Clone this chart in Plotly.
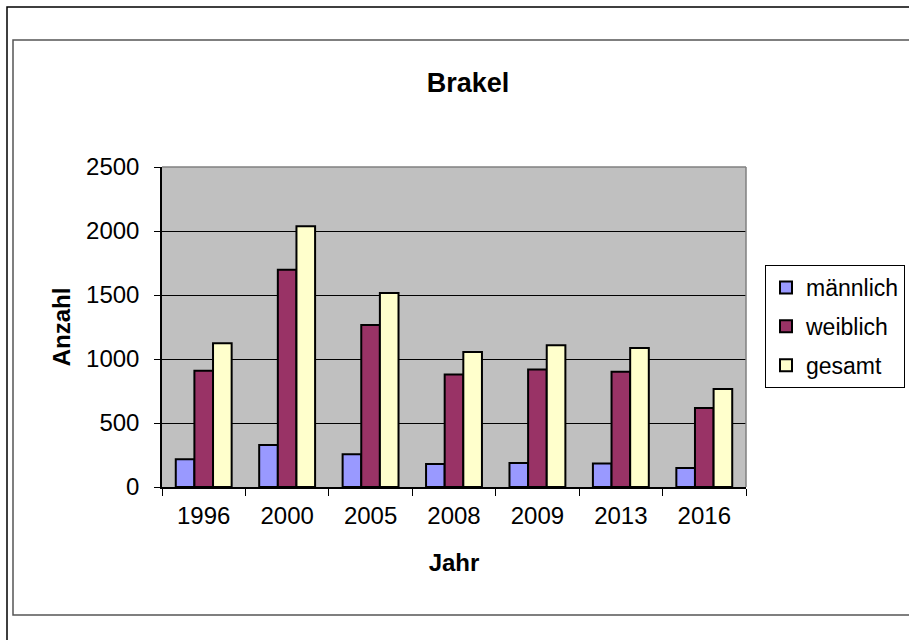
import plotly.graph_objects as go

years = ["1996", "2000", "2005", "2008", "2009", "2013", "2016"]
maennlich = [216, 328, 255, 180, 188, 183, 148]
weiblich = [909, 1698, 1266, 878, 917, 901, 617]
gesamt = [1123, 2037, 1516, 1055, 1107, 1086, 766]
series_names = ["männlich", "weiblich", "gesamt"]
colors = ["#9999FF", "#993366", "#FFFFCC"]
y_ticks = [0, 500, 1000, 1500, 2000, 2500]

W, H = 909, 640
L, R, T, B = 162, 746, 167, 487
pw, ph = R - L, B - T

def px(x):
    return (x - L) / pw

def py(y):
    return (B - y) / ph

font = "Liberation Sans, Arial, sans-serif"
fig = go.Figure()
for i, (name, vals) in enumerate(zip(series_names, [maennlich, weiblich, gesamt])):
    fig.add_trace(go.Bar(
        x=years, y=vals, name=name, legendgroup=name,
        marker=dict(color=colors[i], line=dict(color="black", width=2)),
    ))

shapes = [
    # outer frame
    dict(type="rect", xref="paper", yref="paper", x0=px(7), x1=px(W + 20), y0=py(7), y1=py(H + 20),
         line=dict(color="black", width=1.5), layer="below"),
    # inner frame
    dict(type="rect", xref="paper", yref="paper", x0=px(13), x1=px(W + 20), y0=py(40), y1=py(615),
         line=dict(color="#555555", width=1.5), layer="below"),
    # plot border top/right
    dict(type="line", xref="paper", yref="paper", x0=0, x1=1, y0=1, y1=1,
         line=dict(color="#808080", width=1.5)),
    dict(type="line", xref="paper", yref="paper", x0=1, x1=1, y0=0, y1=1,
         line=dict(color="#808080", width=1.5)),
]

fig.update_layout(
    width=W, height=H,
    margin=dict(l=L, r=W - R, t=T, b=H - B, autoexpand=False),
    paper_bgcolor="white",
    plot_bgcolor="#C0C0C0",
    font=dict(family=font, size=24, color="black"),
    title=dict(text="<b>Brakel</b>", x=468 / W, xref="container", xanchor="center",
               y=1 - 83 / H, yref="container", yanchor="middle",
               font=dict(size=27, family=font)),
    barmode="group",
    bargap=0.33,
    bargroupgap=0,
    showlegend=True,
    legend=dict(
        x=px(765), y=py(265), xanchor="left", yanchor="top",
        bgcolor="white", bordercolor="black", borderwidth=1,
        font=dict(size=23, family=font),
        tracegroupgap=6,
        itemwidth=30,
    ),
    shapes=shapes,
)
fig.update_xaxes(
    showline=True, linecolor="black", linewidth=1.5,
    ticks="outside", ticklen=7, tickcolor="black", tickwidth=1,
    tickson="boundaries", ticklabelstandoff=6,
    title=dict(text="<b>Jahr</b>", standoff=27, font=dict(size=24)),
    showgrid=False, automargin=False,
)
fig.update_yaxes(
    range=[0, 2500], tickvals=y_ticks,
    showline=True, linecolor="black", linewidth=1.5,
    ticks="outside", ticklen=6, tickcolor="black", tickwidth=1,
    ticklabelstandoff=10,
    showgrid=True, gridcolor="black", gridwidth=1,
    zeroline=False,
    title=dict(text="<b>Anzahl</b>", standoff=9, font=dict(size=24)),
    automargin=False,
)

fig.write_html("out.html")
